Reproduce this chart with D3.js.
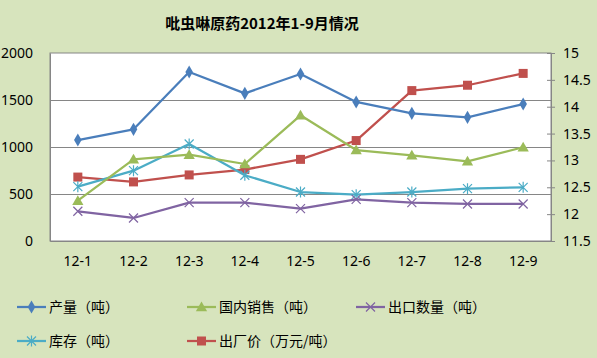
<!DOCTYPE html>
<html><head><meta charset="utf-8">
<script src="https://cdn.jsdelivr.net/npm/d3@7"></script>
<style>body{margin:0;background:#D7E4BD;}svg{display:block;}</style>
</head><body>
<script>
const categories = ["12-1","12-2","12-3","12-4","12-5","12-6","12-7","12-8","12-9"];
const production = [1074,1188,1798,1571,1777,1479,1358,1316,1457];
const domesticSales = [429,869,918,819,1337,968,912,848,997];
const exportQty = [316,245,408,408,344,443,408,394,394];
const inventory = [578,748,1032,699,521,493,521,557,571];
const price = [12.69,12.60,12.73,12.83,13.02,13.37,14.30,14.40,14.62];
const leftTicks = [0,500,1000,1500,2000];
const rightTicks = [11.5,12,12.5,13,13.5,14,14.5,15];
const title = "吡虫啉原药2012年1-9月情况";

const W=597,H=358;
const L=50,R=551,T=53,B=241;
const svg=d3.select("body").append("svg").attr("width",W).attr("height",H);
svg.append("rect").attr("width",W).attr("height",H).attr("fill","#D7E4BD");
const x=d3.scaleBand().domain(categories).range([L,R]);
const yL=d3.scaleLinear().domain([0,2000]).range([B,T]);
const yR=d3.scaleLinear().domain([11.5,15]).range([B,T]);
const cx=c=>x(c)+x.bandwidth()/2;

svg.append("rect").attr("x",L).attr("y",T).attr("width",R-L).attr("height",B-T).attr("fill","#fff").attr("stroke","#868686").attr("stroke-width",1);
svg.append("g").selectAll("line").data(leftTicks.slice(1,-1)).join("line")
 .attr("x1",L).attr("x2",R).attr("y1",d=>Math.round(yL(d))+0.5).attr("y2",d=>Math.round(yL(d))+0.5)
 .attr("stroke","#868686").attr("stroke-width",1);

const font="'Noto Sans','DejaVu Sans',sans-serif";
const gl=svg.append("g").attr("transform",`translate(${L},0)`).call(d3.axisLeft(yL).tickValues(leftTicks).tickFormat(d3.format("d")).tickSize(0).tickPadding(17));
gl.select(".domain").attr("stroke","#868686");
gl.selectAll("text").attr("font-family",font).attr("font-size",14).attr("fill","#000");
const gr=svg.append("g").attr("transform",`translate(${R},0)`).call(d3.axisRight(yR).tickValues(rightTicks).tickFormat(d3.format("")).tickSize(4).tickPadding(8));
gr.select(".domain").attr("stroke","#868686");
gr.selectAll(".tick line").attr("stroke","#868686").attr("x1",-4).attr("x2",4);
gr.selectAll("text").attr("font-family",font).attr("font-size",14).attr("fill","#000");
const gb=svg.append("g").attr("transform",`translate(0,${B})`).call(d3.axisBottom(x).tickSize(0).tickPadding(15));
gb.select(".domain").attr("stroke","#868686");
gb.selectAll("text").attr("font-family",font).attr("font-size",14).attr("fill","#000");

svg.append("text").attr("x",262).attr("y",29).attr("text-anchor","middle")
 .attr("font-family","'Noto Sans CJK SC',sans-serif").attr("font-weight","bold").attr("font-size",15).text(title);

function marker(g,type,color,px,py){
  if(type==="diamond"){
    g.append("path").attr("d",d3.symbol(d3.symbolDiamond,50)()).attr("transform",`translate(${px},${py})`).attr("fill",color);
  } else if(type==="triangle"){
    g.append("path").attr("d",d3.symbol(d3.symbolTriangle,55)()).attr("transform",`translate(${px},${py+1})`).attr("fill",color);
  } else if(type==="square"){
    g.append("rect").attr("x",px-4.5).attr("y",py-4.5).attr("width",9).attr("height",9).attr("fill",color);
  } else if(type==="x"){
    g.append("path").attr("d","M-4.5,-4.5L4.5,4.5M-4.5,4.5L4.5,-4.5").attr("transform",`translate(${px},${py})`).attr("stroke",color).attr("stroke-width",1.2).attr("fill","none");
  } else if(type==="star"){
    g.append("path").attr("d","M-4.5,-4.5L4.5,4.5M-4.5,4.5L4.5,-4.5M0,-5.5L0,5.5").attr("transform",`translate(${px},${py})`).attr("stroke",color).attr("stroke-width",1.2).attr("fill","none");
  }
}

const series=[
 {name:"产量（吨）",data:production,color:"#4A7EBB",m:"diamond",y:yL},
 {name:"国内销售（吨）",data:domesticSales,color:"#9BBB59",m:"triangle",y:yL},
 {name:"出口数量（吨）",data:exportQty,color:"#8064A2",m:"x",y:yL},
 {name:"库存（吨）",data:inventory,color:"#4BACC6",m:"star",y:yL},
 {name:"出厂价（万元/吨）",data:price,color:"#C0504D",m:"square",y:yR}
];
[4,3,2,1,0].forEach(i=>{
  const s=series[i];
  const g=svg.append("g");
  const line=d3.line().x((d,j)=>cx(categories[j])).y(d=>s.y(d));
  g.append("path").attr("d",line(s.data)).attr("fill","none").attr("stroke",s.color).attr("stroke-width",2.25).attr("stroke-linejoin","round");
  s.data.forEach((d,j)=>marker(g,s.m,s.color,cx(categories[j]),s.y(d)));
});

const legPos=[[17,307],[187,307],[356,307],[17,341],[187,341]];
series.forEach((s,i)=>{
  const [lx,ly]=legPos[i];
  const g=svg.append("g");
  g.append("line").attr("x1",lx).attr("x2",lx+29).attr("y1",ly).attr("y2",ly).attr("stroke",s.color).attr("stroke-width",2.25);
  marker(g,s.m,s.color,lx+14.5,ly);
  g.append("text").attr("x",lx+32).attr("y",ly+5).attr("font-family","'Noto Sans CJK SC',sans-serif").attr("font-size",14).attr("fill","#000").text(s.name);
});
</script>
</body></html>
